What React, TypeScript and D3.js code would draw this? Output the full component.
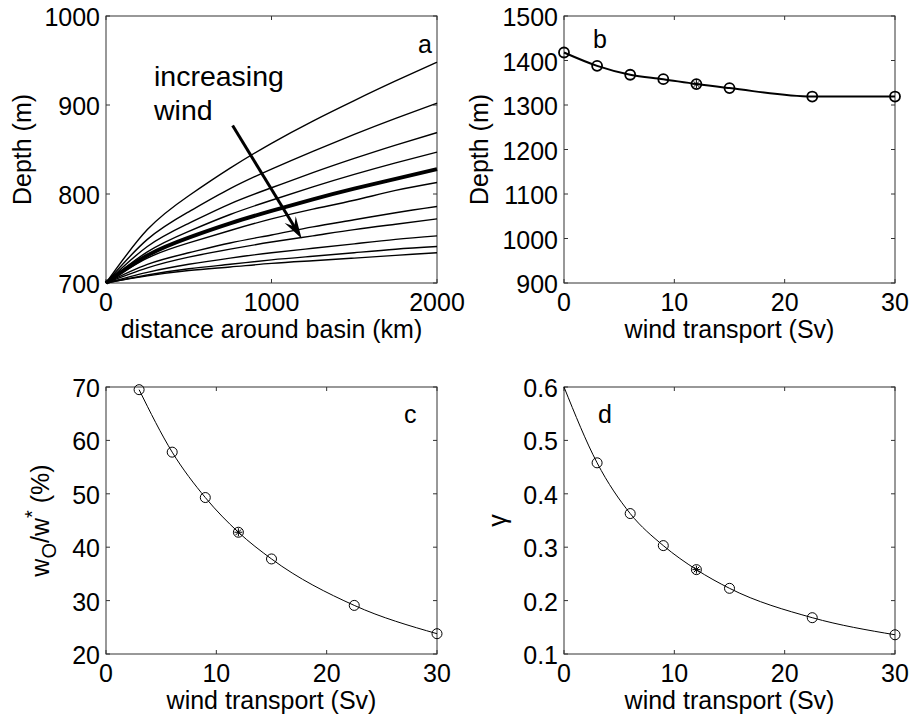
import React, { useRef, useEffect } from 'react';
import * as d3 from 'd3';

// panel a: depth along the basin for increasing wind
const distance = [0, 250, 500, 750, 1000, 1250, 1500, 1750, 2000];
const depthCurves = [
  [700, 760, 798, 829, 857, 882, 905, 927, 948],
  [700, 749, 780, 806, 828, 848, 867, 885, 902],
  [700, 741, 767, 789, 807, 824, 840, 855, 869],
  [700, 735, 758, 777, 793, 808, 822, 835, 847],
  [700, 731, 751, 767, 781, 794, 806, 817, 828],
  [700, 728, 745, 759, 772, 783, 793, 804, 813],
  [700, 721, 734, 745, 754, 763, 771, 779, 786],
  [700, 717, 729, 738, 746, 753, 760, 766, 772],
  [700, 712, 721, 728, 734, 739, 744, 749, 753],
  [700, 709, 716, 721, 726, 730, 734, 738, 741],
  [700, 708, 714, 718, 722, 725, 728, 731, 734],
];
const thickCurve = 4;
const arrowFrom = [765, 877];
const arrowTo = [1182, 750];

// panel b
const windB = [0, 3, 6, 9, 12, 15, 22.5, 30];
const depthB = [1418, 1388, 1368, 1358, 1347, 1338, 1319, 1319];

// panel c
const windC = [3, 6, 9, 12, 15, 22.5, 30];
const ratioC = [69.5, 57.8, 49.3, 42.8, 37.8, 29.1, 23.8];

// panel d (first point is only the line start, no marker)
const windD = [0, 3, 6, 9, 12, 15, 22.5, 30];
const gammaD = [0.6, 0.458, 0.363, 0.303, 0.258, 0.223, 0.168, 0.136];

const starWind = 12;

const FONT = '"Liberation Sans", Arial, Helvetica, sans-serif';
const FS = 25;

const App = () => {
  const ref = useRef(null);

  useEffect(() => {
    document.body.style.margin = '0';
    d3.select(ref.current).selectAll('*').remove();

    const svg = d3
      .select(ref.current)
      .append('svg')
      .attr('width', 912)
      .attr('height', 717)
      .style('display', 'block')
      .style('background', '#fff')
      .attr('font-family', FONT);

    const frame = (box, x, y, xTicks, yTicks, fmt, xLabel) => {
      const g = svg.append('g');
      g.append('rect')
        .attr('x', box.l)
        .attr('y', box.t)
        .attr('width', box.r - box.l)
        .attr('height', box.b - box.t)
        .attr('fill', 'none')
        .attr('stroke', '#333')
        .attr('stroke-width', 1);
      const tl = 4;
      xTicks.forEach((t) => {
        const px = x(t);
        g.append('line').attr('x1', px).attr('x2', px).attr('y1', box.b).attr('y2', box.b - tl).attr('stroke', '#333');
        g.append('line').attr('x1', px).attr('x2', px).attr('y1', box.t).attr('y2', box.t + tl).attr('stroke', '#333');
        g.append('text')
          .attr('x', px)
          .attr('y', box.b + 28)
          .attr('text-anchor', 'middle')
          .attr('font-size', FS)
          .text(t);
      });
      yTicks.forEach((t) => {
        const py = y(t);
        g.append('line').attr('x1', box.l).attr('x2', box.l + tl).attr('y1', py).attr('y2', py).attr('stroke', '#333');
        g.append('line').attr('x1', box.r).attr('x2', box.r - tl).attr('y1', py).attr('y2', py).attr('stroke', '#333');
        g.append('text')
          .attr('x', box.l - 6)
          .attr('y', py + 10)
          .attr('text-anchor', 'end')
          .attr('font-size', FS)
          .text(fmt(t));
      });
      g.append('text')
        .attr('x', (box.l + box.r) / 2)
        .attr('y', box.b + 55)
        .attr('text-anchor', 'middle')
        .attr('font-size', FS)
        .text(xLabel);
      return g;
    };

    const yLabel = (cx, cy) =>
      svg
        .append('text')
        .attr('transform', `translate(${cx}, ${cy}) rotate(-90)`)
        .attr('text-anchor', 'middle')
        .attr('font-size', FS);

    const marker = (g, px, py, sw, star) => {
      g.append('circle')
        .attr('cx', px)
        .attr('cy', py)
        .attr('r', 5)
        .attr('fill', 'none')
        .attr('stroke', '#000')
        .attr('stroke-width', sw);
      if (star) {
        const s = 4;
        [[s, 0], [0, s], [s * 0.7, s * 0.7], [s * 0.7, -s * 0.7]].forEach(([dx, dy]) => {
          g.append('line')
            .attr('x1', px - dx).attr('y1', py - dy)
            .attr('x2', px + dx).attr('y2', py + dy)
            .attr('stroke', '#000').attr('stroke-width', 1);
        });
      }
    };

    // ---- panel a
    const boxA = { l: 106, r: 437, t: 16, b: 283 };
    const xA = d3.scaleLinear().domain([0, 2000]).range([boxA.l, boxA.r]);
    const yA = d3.scaleLinear().domain([700, 1000]).range([boxA.b, boxA.t]);
    const gA = frame(boxA, xA, yA, [0, 1000, 2000], [700, 800, 900, 1000], (d) => d, 'distance around basin (km)');
    const lineA = d3
      .line()
      .curve(d3.curveNatural)
      .x((d, i) => xA(distance[i]))
      .y((d) => yA(d));
    depthCurves.forEach((c, i) => {
      gA.append('path')
        .attr('d', lineA(c))
        .attr('fill', 'none')
        .attr('stroke', '#000')
        .attr('stroke-width', i === thickCurve ? 4 : 1.4);
    });
    const ax1 = xA(arrowFrom[0]), ay1 = yA(arrowFrom[1]);
    const ax2 = xA(arrowTo[0]), ay2 = yA(arrowTo[1]);
    const len = Math.hypot(ax2 - ax1, ay2 - ay1);
    const ux = (ax2 - ax1) / len, uy = (ay2 - ay1) / len;
    const hl = 22, hw = 6.5;
    gA.append('line')
      .attr('x1', ax1).attr('y1', ay1)
      .attr('x2', ax2 - ux * 8).attr('y2', ay2 - uy * 8)
      .attr('stroke', '#000').attr('stroke-width', 3);
    gA.append('path')
      .attr('d', `M${ax2},${ay2} L${ax2 - ux * hl - uy * hw},${ay2 - uy * hl + ux * hw} L${ax2 - ux * 14},${ay2 - uy * 14} L${ax2 - ux * hl + uy * hw},${ay2 - uy * hl - ux * hw} Z`)
      .attr('fill', '#000');
    gA.append('text').attr('x', 154).attr('y', 86).attr('font-size', 28.5).text('increasing');
    gA.append('text').attr('x', 154).attr('y', 120).attr('font-size', 28.5).text('wind');
    gA.append('text').attr('x', 418).attr('y', 53).attr('font-size', FS).text('a');
    yLabel(31, (boxA.t + boxA.b) / 2).text('Depth (m)');

    // ---- panel b
    const boxB = { l: 564, r: 895, t: 16, b: 283 };
    const xB = d3.scaleLinear().domain([0, 30]).range([boxB.l, boxB.r]);
    const yB = d3.scaleLinear().domain([900, 1500]).range([boxB.b, boxB.t]);
    const gB = frame(boxB, xB, yB, [0, 10, 20, 30], d3.range(900, 1501, 100), (d) => d, 'wind transport (Sv)');
    gB.append('path')
      .attr('d', d3.line().curve(d3.curveMonotoneX).x((d, i) => xB(windB[i])).y((d) => yB(d))(depthB))
      .attr('fill', 'none')
      .attr('stroke', '#000')
      .attr('stroke-width', 2);
    windB.forEach((w, i) => marker(gB, xB(w), yB(depthB[i]), 1.8, w === starWind));
    gB.append('text').attr('x', 593).attr('y', 48).attr('font-size', FS).text('b');
    yLabel(488, (boxB.t + boxB.b) / 2).text('Depth (m)');

    // ---- panel c
    const boxC = { l: 106, r: 437, t: 387, b: 654 };
    const xC = d3.scaleLinear().domain([0, 30]).range([boxC.l, boxC.r]);
    const yC = d3.scaleLinear().domain([20, 70]).range([boxC.b, boxC.t]);
    const gC = frame(boxC, xC, yC, [0, 10, 20, 30], d3.range(20, 71, 10), (d) => d, 'wind transport (Sv)');
    gC.append('path')
      .attr('d', d3.line().curve(d3.curveMonotoneX).x((d, i) => xC(windC[i])).y((d) => yC(d))(ratioC))
      .attr('fill', 'none')
      .attr('stroke', '#000')
      .attr('stroke-width', 1);
    windC.forEach((w, i) => marker(gC, xC(w), yC(ratioC[i]), 1, w === starWind));
    gC.append('text').attr('x', 404).attr('y', 423).attr('font-size', FS).text('c');
    const lc = yLabel(49, (boxC.t + boxC.b) / 2);
    lc.append('tspan').text('w');
    lc.append('tspan').attr('dy', 7).attr('font-size', 20).text('O');
    lc.append('tspan').attr('dy', -7).text('/w');
    lc.append('tspan').attr('dy', -10).attr('font-size', 20).text('*');
    lc.append('tspan').attr('dy', 10).text(' (%)');

    // ---- panel d
    const boxD = { l: 564, r: 895, t: 387, b: 654 };
    const xD = d3.scaleLinear().domain([0, 30]).range([boxD.l, boxD.r]);
    const yD = d3.scaleLinear().domain([0.1, 0.6]).range([boxD.b, boxD.t]);
    const gD = frame(boxD, xD, yD, [0, 10, 20, 30], [0.1, 0.2, 0.3, 0.4, 0.5, 0.6], d3.format('.1f'), 'wind transport (Sv)');
    gD.append('path')
      .attr('d', d3.line().curve(d3.curveMonotoneX).x((d, i) => xD(windD[i])).y((d) => yD(d))(gammaD))
      .attr('fill', 'none')
      .attr('stroke', '#000')
      .attr('stroke-width', 1);
    windD.slice(1).forEach((w, i) => marker(gD, xD(w), yD(gammaD[i + 1]), 1, w === starWind));
    gD.append('text').attr('x', 598).attr('y', 423).attr('font-size', FS).text('d');
    yLabel(506, (boxD.t + boxD.b) / 2).text('γ');
  }, []);

  return <div ref={ref}></div>;
};

export default App;
